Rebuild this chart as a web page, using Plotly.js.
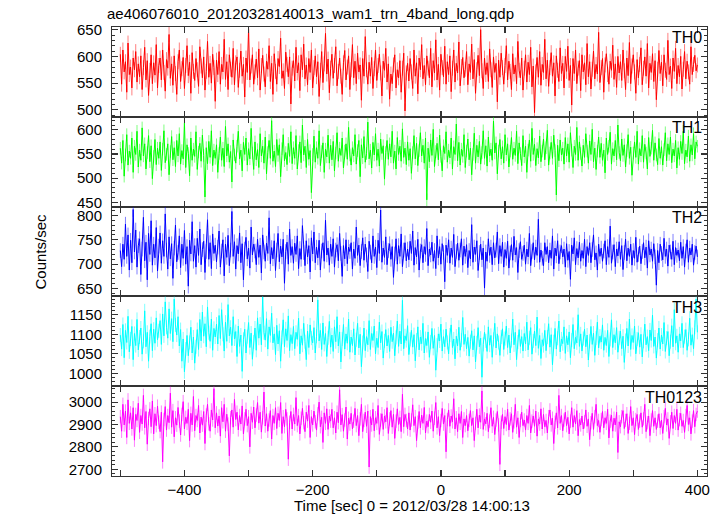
<!DOCTYPE html>
<html>
<head>
<meta charset="utf-8">
<script src="https://cdn.plot.ly/plotly-3.0.1.min.js"></script>
<style>html,body{margin:0;padding:0;background:#fff}#chart{width:723px;height:516px}</style>
</head>
<body>
<div id="chart"></div>
<script>
// Light-curve bins: first and last bin times (s), relative to 2012/03/28 14:00:13
const timeStart = -500;
const timeEnd = 400;

const bandNames = ["TH0", "TH1", "TH2", "TH3", "TH0123"];
const bandColors = ["#ff0000", "#00ff00", "#0000ff", "#00ffff", "#ff00ff"];
const errColors = ["rgba(255,0,0,0.5)", "rgba(0,255,0,0.5)", "rgba(0,0,255,0.5)", "rgba(0,255,255,0.5)", "rgba(255,0,255,0.5)"];
const bandErrors = [14, 13, 15, 18, 30];
const yRanges = [[487, 655], [441, 627], [634, 818], [967, 1197], [2670, 3071]];
const yMajor = [50, 50, 50, 50, 100];
const yMinor = [10, 10, 10, 10, 20];

const xTickVals = [-500, -400, -300, -200, -100, 0, 100, 200, 300, 400];
const xTickText = ["", "\u2212400", "", "\u2212200", "", "0", "", "200", "", "400"];

const th0 = [
604,548,612,571,590,533,625,566,580,541,597,575,609,552,586,
562,601,538,579,617,556,592,527,574,603,549,588,565,622,541,
583,597,556,612,570,535,594,578,641,559,586,546,601,568,529,
590,612,553,577,598,540,583,620,564,589,531,607,572,555,596,
575,544,618,582,560,599,537,572,628,561,587,550,604,579,516,
593,566,609,548,585,571,632,557,590,538,603,576,561,615,547,
588,599,542,574,610,563,585,524,597,570,651,556,582,603,548,
571,595,560,614,537,583,602,567,543,591,576,620,553,587,529,
605,572,548,596,581,634,559,573,540,608,585,562,599,511,578,
592,554,617,569,588,536,603,575,623,558,584,547,596,570,612,
541,579,601,562,590,525,574,609,551,586,643,567,595,532,578,
604,559,583,618,545,572,597,563,529,588,611,556,580,601,538,
575,622,560,591,549,606,571,584,518,596,563,637,575,548,589,
563,598,540,577,612,555,583,604,569,526,591,574,615,552,586,
520,567,549,584,603,541,575,560,592,533,578,606,498,569,587,
554,596,571,540,612,563,588,530,597,575,622,558,583,547,601,
578,560,615,543,592,569,631,556,585,537,604,579,562,619,548,
590,566,601,534,578,612,552,587,569,627,545,581,598,560,576,
609,547,586,570,623,558,594,531,575,602,564,650,573,540,597,
566,588,553,614,575,542,599,570,587,515,593,561,606,579,548,
583,620,556,591,572,538,605,567,584,549,628,574,560,597,537,
578,603,552,589,566,617,543,582,495,571,598,561,609,546,585,
570,632,558,593,544,579,607,563,588,526,601,574,553,616,568,
587,541,600,572,619,555,583,509,596,568,612,549,578,592,536,
603,571,588,547,624,562,590,539,576,610,558,585,567,645,551,
579,596,533,584,605,566,548,591,574,621,557,586,542,600,569,
590,555,612,573,538,597,564,626,549,582,603,571,531,594,560,
585,616,547,578,599,563,624,541,587,570,605,553,592,519,576,
611,568,589,545,603,574,557,630,566,582,540,597,572,615,549,
583,562,600,539,576,609,558,591,571,548,618,566,585,602,573,
584];

const th1 = [
562,531,578,504,548,590,527,556,541,583,512,566,549,597,523,
558,537,604,546,571,519,553,588,534,567,499,545,580,528,562,
541,575,516,560,598,532,549,571,507,555,586,538,563,524,578,
546,592,529,557,540,614,522,569,551,505,583,537,560,545,596,
518,554,572,535,589,547,461,563,530,576,543,598,526,558,541,
569,512,551,585,537,562,524,607,546,571,533,555,492,579,548,
531,566,597,540,558,515,574,549,583,527,561,540,603,552,518,
575,538,559,522,592,546,566,531,585,509,553,578,541,619,535,
556,524,580,547,569,503,561,590,536,553,528,572,545,596,530,
563,541,588,519,557,575,532,610,548,566,522,580,539,557,470,
549,587,533,563,541,598,526,555,573,512,560,544,589,531,568,
538,576,515,552,594,535,562,547,583,521,556,571,539,605,548,
527,563,546,590,529,557,578,503,569,542,586,533,551,616,540,
558,521,574,548,592,537,560,525,581,551,567,498,553,578,539,
571,544,597,531,556,519,584,549,566,535,602,543,562,528,575,
537,561,510,553,588,540,572,526,557,594,546,568,531,583,455,
562,534,579,547,601,524,555,572,538,589,545,515,567,551,596,
533,558,542,583,519,565,549,612,536,574,527,560,545,590,522,
556,581,538,562,507,549,593,531,568,544,576,529,553,598,541,
567,525,585,546,560,537,618,552,573,509,556,580,540,565,531,
590,548,571,523,556,584,539,562,547,597,530,573,551,526,588,
544,566,512,558,579,535,603,549,570,526,561,542,587,534,556,
581,538,563,599,527,552,574,541,589,557,465,568,536,579,548,
562,529,584,546,571,533,594,558,522,566,549,605,537,575,551,
525,568,543,592,556,531,577,549,601,534,562,518,556,585,543,
572,537,558,511,583,549,566,595,529,561,546,578,538,610,553,
536,581,547,569,523,557,590,541,564,506,552,575,543,597,529,
561,546,588,533,570,552,519,584,545,562,599,537,573,548,528,
582,541,565,527,559,594,536,571,549,585,532,560,546,578,521,
563,539,576,551,597,530,558,544,587,535,569,548,592,540,575,
566];

const th2 = [
728,695,741,710,782,716,760,688,749,703,812,725,770,694,738,
752,679,731,796,707,745,668,763,720,789,698,741,713,775,686,
737,764,702,748,716,803,729,690,756,711,742,671,733,780,705,
724,758,693,741,712,769,700,736,655,749,721,787,706,738,694,
753,718,772,699,730,747,683,726,791,710,744,691,762,722,739,
705,735,768,694,727,750,676,741,714,759,697,729,808,716,746,
690,738,721,764,703,742,668,731,755,711,733,692,776,719,741,
727,699,751,714,739,682,760,725,706,743,722,795,701,734,711,
748,687,729,763,705,737,715,751,661,726,745,700,772,718,736,
702,743,720,758,691,732,710,779,724,697,748,715,738,684,754,
721,766,703,735,713,749,688,727,744,706,790,719,733,698,741,
716,752,694,729,740,707,763,722,675,738,711,750,701,735,726,
744,690,731,712,776,718,739,697,726,754,708,741,719,685,747,
725,703,758,716,735,693,749,722,811,704,733,714,756,699,728,
742,710,736,673,721,752,700,738,716,762,695,729,744,707,731,
709,747,722,768,698,734,715,751,688,727,740,703,736,720,773,
697,731,719,745,706,728,691,758,713,736,700,742,724,664,739,
718,750,702,733,714,761,695,726,743,708,729,752,698,737,716,
740,693,728,711,781,704,735,720,748,687,724,741,709,733,651,
725,706,752,718,735,699,744,713,729,766,701,738,716,745,694,
730,712,747,692,723,740,708,757,719,734,683,728,746,710,722,
739,700,731,715,763,697,726,744,709,735,718,792,704,729,712,
697,744,720,736,703,729,712,758,690,733,717,748,701,725,738,
715,731,694,742,708,726,669,739,721,754,699,732,713,745,706,
728,712,751,695,736,718,744,703,730,760,709,723,688,741,716,
733,706,727,748,699,736,714,778,702,725,740,695,731,717,746,
710,738,689,724,751,707,733,716,741,698,728,712,755,704,720,
737,701,726,744,713,735,692,748,719,731,706,742,715,657,728,
703,741,722,709,753,716,731,696,739,725,710,747,699,734,718,
729,707,745,712,736,694,727,750,704,733,719,741,698,724,737,
715];

const th3 = [
1098,1062,1125,1040,1110,1079,1146,1055,1088,1120,1035,1102,1071,1138,1060,
1093,1116,1049,1082,1160,1068,1105,1031,1094,1127,1058,1113,1077,1142,1086,
1109,1135,1074,1152,1096,1183,1118,1090,1165,1102,1140,1081,1190,1124,1098,
1145,1070,1112,1031,1088,1004,1062,1097,1045,1079,1118,1052,1093,1026,1068,
1112,1061,1138,1083,1157,1095,1127,1068,1170,1104,1082,1139,1059,1115,1093,
1126,1075,1148,1089,1163,1100,1057,1131,1082,1176,1096,1118,1071,1145,1088,
1107,1043,1121,1069,1098,1005,1087,1113,1052,1094,1130,1066,1103,1036,1080,
1116,1059,1142,1090,1126,1073,1196,1104,1085,1140,1062,1119,1097,1154,1078,
1101,1048,1123,1075,1109,1031,1092,1137,1068,1114,1084,1147,1058,1099,1076,
1120,1063,1105,1087,1141,1050,1096,1072,1128,1081,1035,1108,1066,1124,1090,
1078,1117,1052,1095,1188,1083,1110,1061,1129,1074,1102,1043,1091,1133,1067,
1098,1056,1119,1081,1145,1070,1106,1029,1088,1125,1062,1101,1077,1139,1054,
1093,1071,1114,1047,1086,1128,1065,1100,1017,1079,1116,1058,1094,1073,1135,
1061,1102,1084,1121,1050,1090,1066,1131,1078,1107,1039,1083,1112,1070,1097,
1056,1118,1081,1103,1045,1092,1134,1069,1108,1075,1187,1063,1096,1084,1122,
1048,1087,1110,1067,1099,1032,1085,1119,1060,1093,1076,1128,1052,1089,1071,
1106,1041,1080,1115,1064,1097,1008,1072,1101,1083,1126,1057,1094,1068,1113,
1079,1050,1098,1124,1066,1088,1037,1095,1070,1118,1059,1085,1143,1074,1100,
1063,1092,1044,1081,1109,1060,1096,1029,1078,1117,1068,1090,990,1074,1105,
1083,1056,1119,1072,1097,1041,1087,1128,1065,1101,1079,1046,1093,1114,1061,
1089,1121,1066,1098,1052,1084,1139,1073,1105,1035,1080,1112,1069,1094,1057,
1102,1075,1131,1060,1091,1117,1049,1083,1108,1071,1144,1064,1097,1038,1086,
1071,1110,1058,1093,1127,1067,1099,1022,1081,1115,1062,1090,1134,1055,1088,
1076,1119,1051,1096,1073,1106,1040,1085,1125,1063,1092,1078,1150,1069,1101,
1057,1089,1113,1068,1098,1034,1082,1120,1074,1103,1046,1090,1131,1065,1095,
1080,1124,1059,1092,1071,1110,1043,1087,1137,1066,1099,1078,1117,1054,1091,
1108,1063,1095,1028,1084,1115,1070,1139,1061,1097,1079,1121,1050,1088,1104,
1067,1100,1042,1082,1126,1073,1094,1058,1111,1084,1149,1069,1093,1039,1085,
1116,1062,1098,1075,1130,1056,1090,1107,1045,1081,1122,1068,1163,1077,1096,
1054,1101,1083,1128,1066,1094,1112,1059,1087,1141,1072,1099,1063,1118,1190,
1105];

const th0123 = [
2935,2870,2990,2898,2960,2842,3010,2905,2952,2880,2975,2830,2945,2918,2995,
2865,2940,2902,3030,2885,2958,2812,2927,2970,2890,3005,2858,2948,2895,2982,
2910,2868,2955,2733,2922,2980,2875,2940,2908,3040,2888,2962,2845,2930,2897,
2976,2915,2853,2945,3002,2880,2932,2905,2968,2828,2950,2898,3025,2872,2940,
2918,2985,2862,2933,2897,2958,2815,2942,2990,2903,2870,2965,2920,3060,2885,
2952,2893,2938,2848,2975,2912,2990,2870,2946,2902,2760,2930,2965,2888,3012,
2922,2955,2876,2940,2902,2983,2858,2925,2968,2895,2935,2800,2950,2910,2978,
2885,2942,2998,2906,2955,2866,2930,3045,2893,2948,2870,2920,2962,2835,2940,
2905,2975,2882,2950,2918,2998,2860,2935,2890,2968,2925,2745,2910,2958,2880,
2945,2902,3020,2895,2940,2858,2928,2972,2908,2868,2955,2915,2985,2842,2935,
2898,2960,2912,2875,2948,3000,2890,2932,2820,2952,2905,2970,2878,2938,2915,
2968,2885,2930,2862,2955,2908,3055,2898,2944,2870,2920,2978,2835,2928,2902,
2950,2880,2915,2972,2895,2940,2850,2925,2990,2868,2918,2955,2892,2960,2710,
2935,2898,2968,2872,2930,2905,2985,2856,2920,2948,2878,2938,2912,2975,2860,
2925,2962,2888,2945,2838,2915,2970,2900,2932,2868,3035,2890,2945,2918,2880,
2952,2875,2920,2988,2895,2935,2828,2910,2958,2885,2942,2905,2976,2862,2915,
2890,2945,2910,2960,2870,2928,2998,2885,2935,2850,2918,2972,2902,2940,2778,
2922,2965,2892,2938,2912,3015,2880,2930,2868,2948,2905,2958,2842,2925,2895,
2940,2872,2918,2962,2895,2930,2828,2905,2968,2885,2942,2910,3050,2878,2925,
2903,2950,2868,2915,2975,2892,2932,2855,2920,2958,2898,2722,2910,2945,2882,
2935,2900,2968,2875,2925,2948,2865,2912,2990,2888,2930,2842,2918,2955,2895,
2920,2875,2940,2905,2985,2862,2915,2938,2892,2960,2848,2925,2902,2970,2880,
2945,2890,2918,2862,2935,2965,2898,2928,2815,2910,2952,2885,3030,2905,2940,
2872,2920,2955,2895,2932,2858,2915,2975,2888,2940,2902,2962,2850,2922,2898,
2938,2880,2912,2965,2892,2925,2832,2908,2950,2878,2935,2990,2895,2918,2865,
2922,2958,2885,2930,2905,2968,2840,2915,2942,2870,2928,2898,2955,2775,2912,
2890,2935,2962,2882,2918,2948,2860,2905,2980,2895,2930,2855,2922,2945,2878,
2915,2952,2888,2925,2990,2868,2908,2938,2850,2920,2962,2892,2930,2878,2915,
2948,2885,2920,2860,2935,2972,2898,2925,2838,2912,2955,2882,2940,2905,2968,
2875,2922,2950,2892,2918,2865,2940,2985,2900,2930,2858,2915,2962,2890,2945,
2960];

const bandValues = [th0, th1, th2, th3, th0123];

const FONT = "Liberation Sans, Arial, Helvetica, sans-serif";
const nPanels = bandValues.length;
const traces = [];
const layout = {
  width: 723, height: 516,
  margin: {l: 112, r: 16, t: 27, b: 40},
  paper_bgcolor: "#fff", plot_bgcolor: "#fff",
  showlegend: false,
  font: {family: FONT, size: 15, color: "#000"},
  title: {text: "ae406076010_20120328140013_wam1_trn_4band_long.qdp",
          x: 107 / 723, xanchor: "left", xref: "container",
          y: 1 - 14 / 516, yanchor: "middle", yref: "container",
          font: {family: FONT, size: 15, color: "#000"}},
  annotations: []
};

for (let k = 0; k < nPanels; k++) {
  const vals = bandValues[k];
  const n = vals.length;
  const times = vals.map((_, i) => timeStart + i * (timeEnd - timeStart) / (n - 1));
  const sfx = k === 0 ? "" : String(k + 1);
  traces.push({
    type: "scatter", mode: "lines",
    x: times, y: vals,
    xaxis: "x" + sfx, yaxis: "y" + sfx,
    line: {color: bandColors[k], width: 1},
    error_y: {type: "constant", value: bandErrors[k], color: errColors[k], thickness: 1, width: 0},
    hoverinfo: "skip"
  });
  const top = 1 - k / nPanels, bot = 1 - (k + 1) / nPanels;
  layout["xaxis" + sfx] = {
    domain: [0, 1], anchor: "y" + sfx,
    range: [-513, 415],
    tickmode: "array", tickvals: xTickVals, ticktext: xTickText,
    showticklabels: k === nPanels - 1,
    ticks: "inside", ticklen: 6, tickcolor: "#333", tickwidth: 1.2,
    showline: true, linecolor: "#333", linewidth: 1, mirror: "ticks",
    showgrid: false, zeroline: false,
    tickfont: {family: FONT, size: 15, color: "#000"}
  };
  layout["yaxis" + sfx] = {
    domain: [bot, top], anchor: "x" + sfx,
    range: yRanges[k],
    dtick: yMajor[k], tick0: 0,
    ticks: "inside", ticklen: 6, tickcolor: "#333", tickwidth: 1.2,
    minor: {dtick: yMinor[k], tick0: 0, ticks: "inside", ticklen: 3, tickcolor: "#333", tickwidth: 1, showgrid: false},
    showline: true, linecolor: "#333", linewidth: 1, mirror: "ticks",
    showgrid: false, zeroline: false,
    ticklabelstandoff: 6,
    tickfont: {family: FONT, size: 15, color: "#000"}
  };
  layout.annotations.push({
    text: bandNames[k], showarrow: false,
    xref: "x" + sfx + " domain", yref: "y" + sfx + " domain",
    x: 0.993, y: 0.985, xanchor: "right", yanchor: "top",
    borderpad: 0, bgcolor: "rgba(255,255,255,0)",
    font: {family: FONT, size: 16, color: "#000"}
  });
}

layout.annotations.push({
  text: "Counts/sec", showarrow: false, textangle: -90,
  xref: "paper", yref: "paper",
  x: (40 - 112) / 595, y: 0.5, xanchor: "center", yanchor: "middle",
  font: {family: FONT, size: 15, color: "#000"}
});
layout.annotations.push({
  text: "Time [sec] 0 = 2012/03/28 14:00:13", showarrow: false,
  xref: "paper", yref: "paper",
  x: (412 - 112) / 595, y: -(506 - 476) / 449, xanchor: "center", yanchor: "middle",
  font: {family: FONT, size: 15, color: "#000"}
});

Plotly.newPlot("chart", traces, layout, {displayModeBar: false, staticPlot: true});
</script>
</body>
</html>
